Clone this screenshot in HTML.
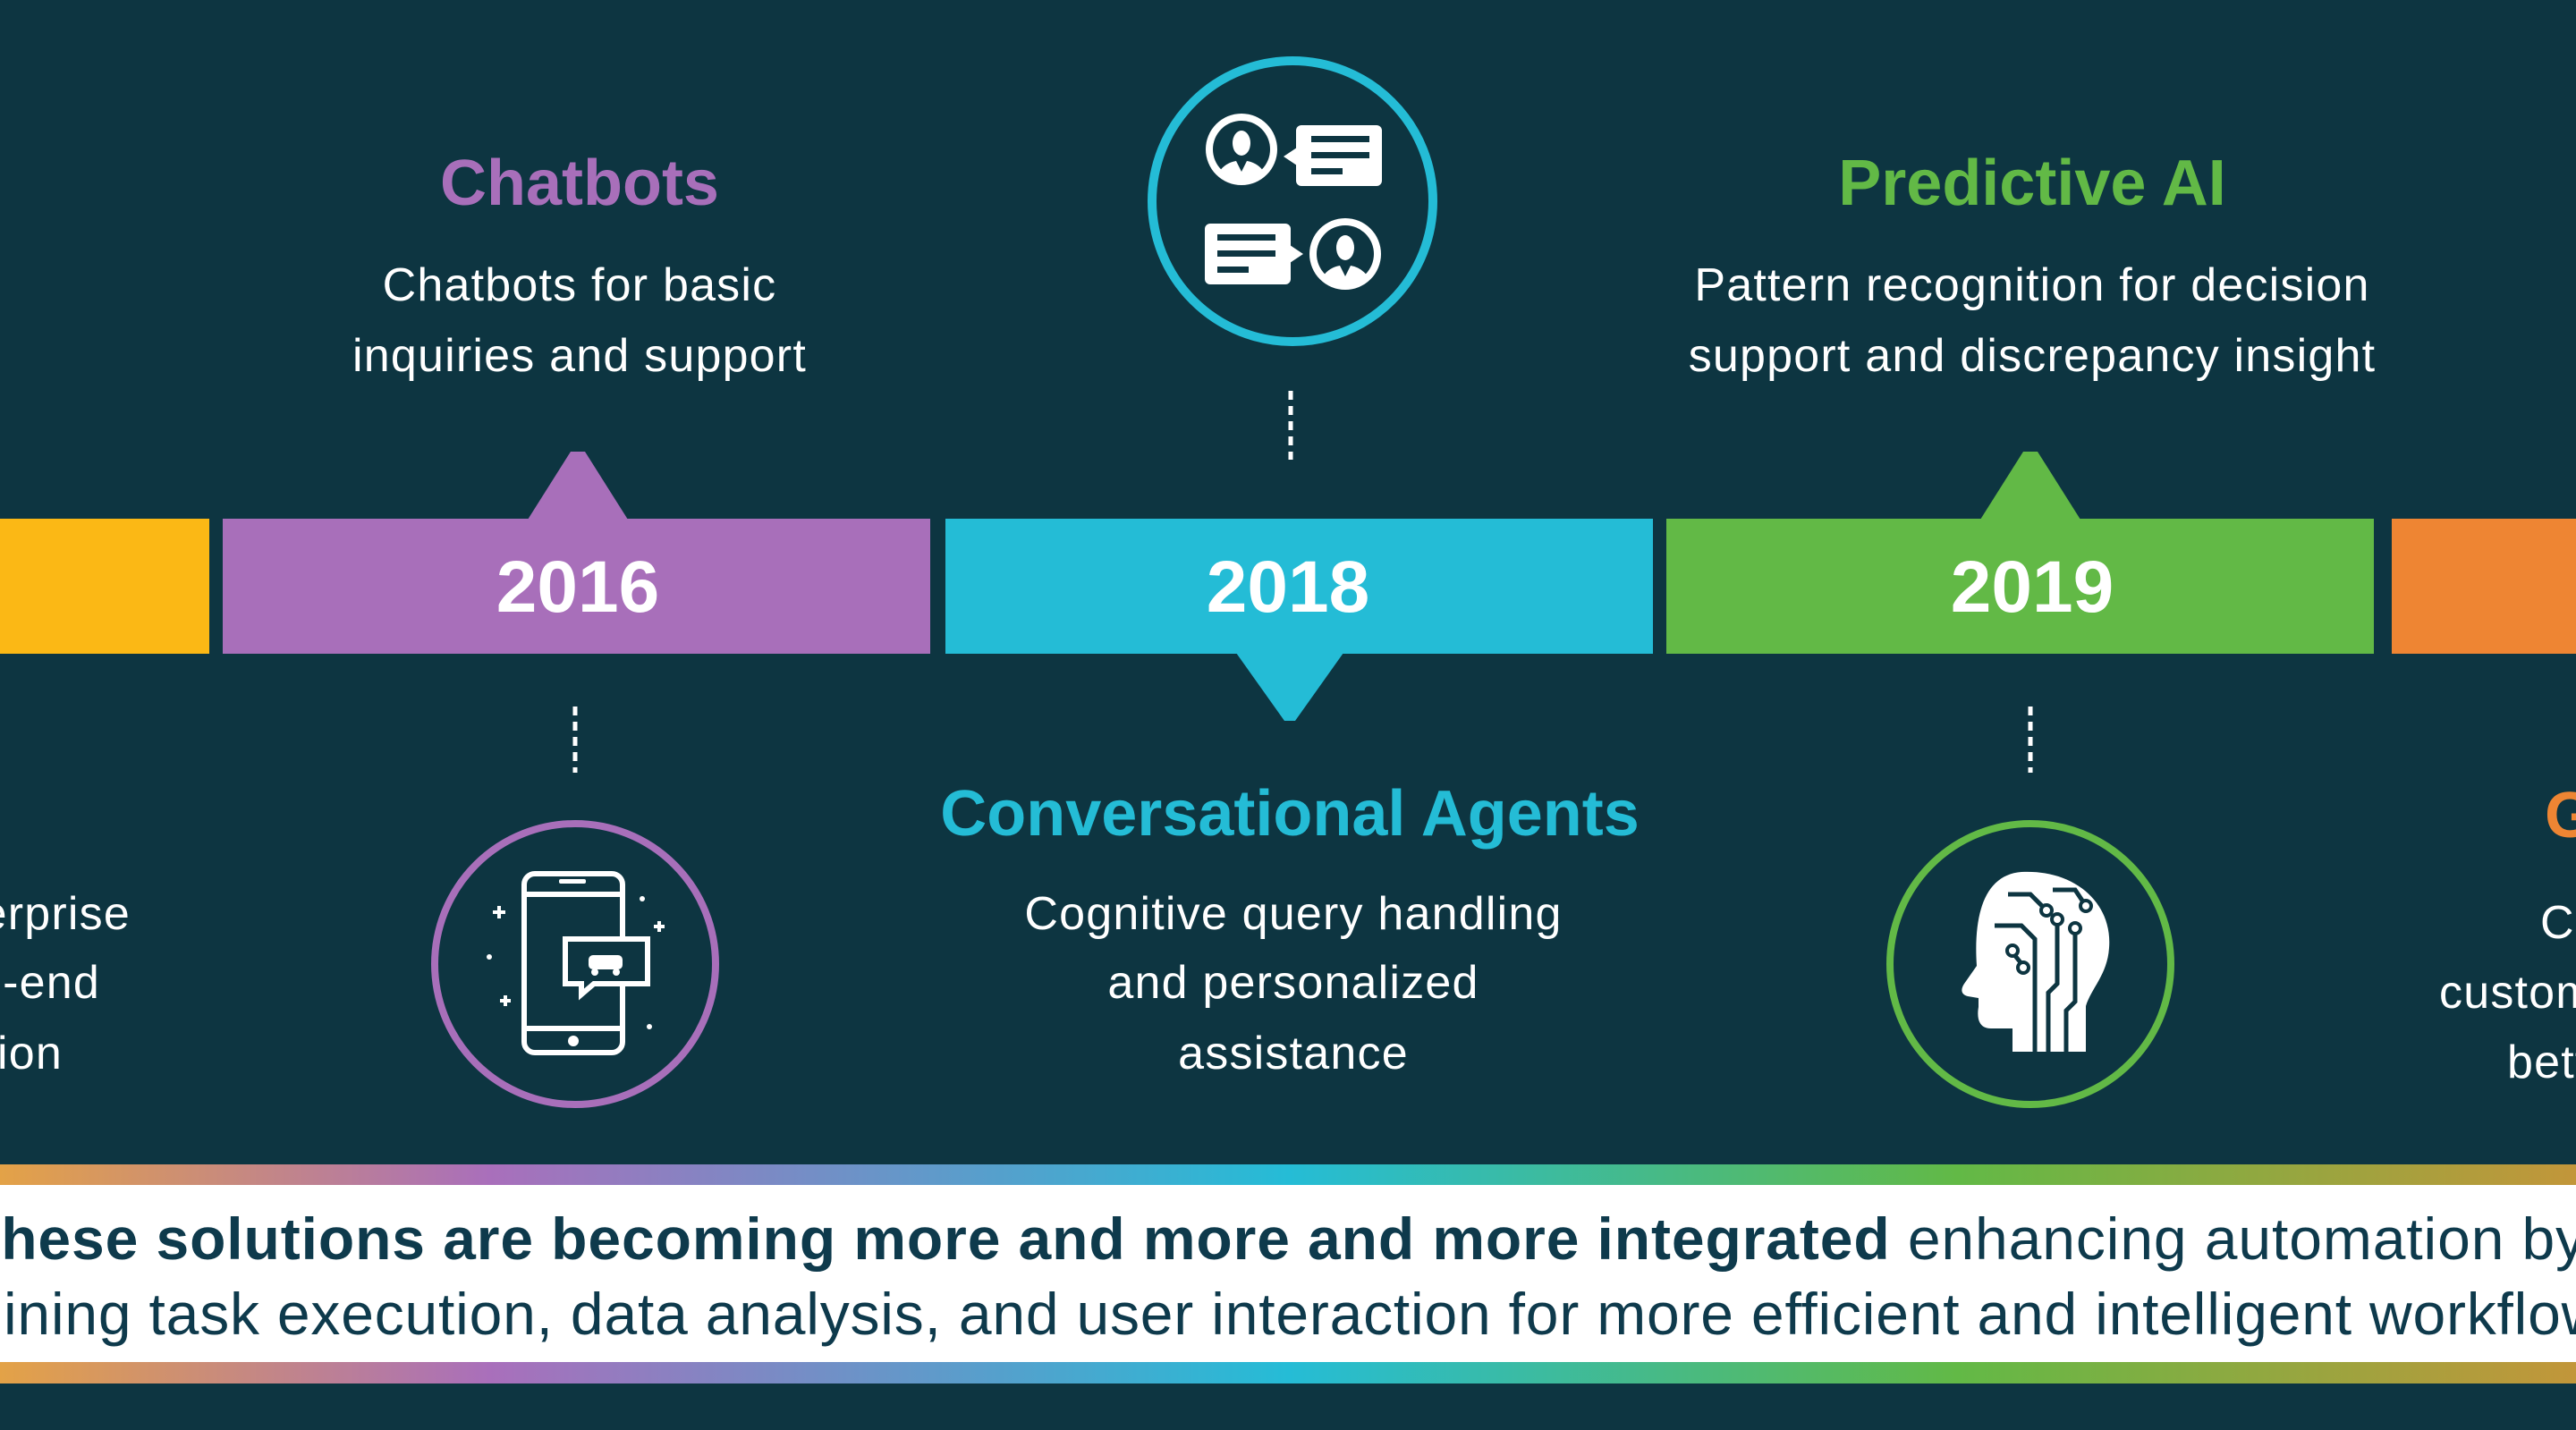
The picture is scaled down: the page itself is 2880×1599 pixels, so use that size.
<!DOCTYPE html>
<html><head><meta charset="utf-8"><style>
html,body{margin:0;padding:0;background:#0d3541;overflow:hidden;width:2880px;height:1599px}
svg{display:block}
text{font-family:"Liberation Sans",Arial,sans-serif}
</style></head><body>
<svg width="2880" height="1599" viewBox="0 0 2880 1599" xmlns="http://www.w3.org/2000/svg">
<defs>
<linearGradient id="g" x1="0" x2="1" y1="0" y2="0">
<stop offset="0" stop-color="#e3a247"/><stop offset="0.19" stop-color="#a96fbb"/><stop offset="0.5" stop-color="#25bcd6"/><stop offset="0.76" stop-color="#62b946"/><stop offset="1" stop-color="#c2963a"/>
</linearGradient>
</defs>
<rect width="2880" height="1599" fill="#0d3541"/>
<rect x="0" y="580" width="234" height="151" fill="#fbb815"/>
<rect x="249" y="580" width="791" height="151" fill="#a86fba"/>
<rect x="1057" y="580" width="791" height="151" fill="#24bcd6"/>
<rect x="1863" y="580" width="791" height="151" fill="#62b946"/>
<rect x="2674" y="580" width="206" height="151" fill="#ee8533"/>
<polygon points="590,581 638,505 654,505 702,581" fill="#a86fba"/>
<polygon points="2214,581 2262,505 2278,505 2326,581" fill="#62b946"/>
<polygon points="1382,730 1502,730 1448,806 1436,806" fill="#24bcd6"/>
<g fill="#fff" font-weight="bold" font-size="82" text-anchor="middle">
<text x="646" y="684">2016</text><text x="1440" y="684">2018</text><text x="2272" y="684">2019</text>
</g>
<g font-weight="bold" font-size="72" text-anchor="middle">
<text x="648" y="229" fill="#a86fba">Chatbots</text>
<text x="2272" y="229" fill="#62b946">Predictive AI</text>
<text x="1442" y="934" fill="#24bcd6">Conversational Agents</text>
<text x="2845" y="936" fill="#ee8533" text-anchor="start">Generative AI</text>
<text x="4" y="229" fill="#fbb815" text-anchor="end">Automation</text>
</g>
<g fill="#fff" font-size="52" letter-spacing="1.2" text-anchor="middle">
<text x="648" y="336">Chatbots for basic</text>
<text x="648" y="415">inquiries and support</text>
<text x="2272" y="336">Pattern recognition for decision</text>
<text x="2272" y="415">support and discrepancy insight</text>
<text x="1446" y="1039">Cognitive query handling</text>
<text x="1446" y="1116">and personalized</text>
<text x="1446" y="1195">assistance</text>
<g text-anchor="end">
<text x="146" y="1039">Enterprise</text>
<text x="112" y="1116">end-to-end</text>
<text x="70" y="1195">automation</text>
</g>
<g text-anchor="start">
<text x="2840" y="1049">Customized</text>
<text x="2727" y="1127">customer service</text>
<text x="2803" y="1205">better</text>
</g>
</g>
<g stroke="#fff" stroke-width="5" stroke-dasharray="10,7">
<line x1="1443" y1="437" x2="1443" y2="514"/>
<line x1="643" y1="790" x2="643" y2="864"/>
<line x1="2270" y1="790" x2="2270" y2="864"/>
</g>
<circle cx="1445" cy="225" r="157" fill="none" stroke="#24bcd6" stroke-width="10"/>
<g fill="#fff">
<circle cx="1388" cy="167" r="40"/>
<circle cx="1388" cy="167" r="32" fill="#0d3541"/>
<path d="M1363 192 Q1370 182 1382 180 L1388 192 L1394 180 Q1406 182 1413 192 A32 32 0 0 1 1363 192Z"/>
<ellipse cx="1388" cy="160" rx="10" ry="14"/>
<rect x="1449" y="140" width="96" height="68" rx="6"/>
<polygon points="1450,165 1435,175 1450,185"/>
<circle cx="1504" cy="284" r="40"/>
<circle cx="1504" cy="284" r="32" fill="#0d3541"/>
<path d="M1479 309 Q1486 299 1498 297 L1504 309 L1510 297 Q1522 299 1529 309 A32 32 0 0 1 1479 309Z"/>
<ellipse cx="1504" cy="277" rx="10" ry="14"/>
<rect x="1347" y="250" width="96" height="68" rx="6"/>
<polygon points="1442,274 1457,284 1442,294"/>
</g>
<g fill="#0d3541">
<rect x="1466" y="152" width="65" height="7"/><rect x="1466" y="170" width="65" height="7"/><rect x="1466" y="188" width="35" height="7"/>
<rect x="1361" y="262" width="65" height="7"/><rect x="1361" y="280" width="65" height="7"/><rect x="1361" y="298" width="35" height="7"/>
</g>
<circle cx="643" cy="1078" r="157" fill="none" stroke="#a86fba" stroke-width="8"/>
<g fill="none" stroke="#fff" stroke-width="6">
<rect x="586" y="977" width="110" height="200" rx="12"/>
<line x1="586" y1="1000" x2="696" y2="1000"/><line x1="586" y1="1150" x2="696" y2="1150"/>
<path d="M632 1050 h92 v50 h-60 l-14 12 v-12 h-18z" fill="#0d3541"/>
</g>
<g fill="#fff">
<rect x="625" y="983" width="30" height="5" rx="2"/><circle cx="641" cy="1164" r="6"/>
<rect x="658" y="1068" width="38" height="16" rx="5"/><circle cx="665" cy="1087" r="4"/><circle cx="689" cy="1087" r="4"/>
<rect x="556" y="1013" width="4" height="14"/><rect x="551" y="1018" width="14" height="4"/>
<rect x="563" y="1113" width="4" height="12"/><rect x="559" y="1117" width="12" height="4"/>
<circle cx="547" cy="1070" r="3"/><circle cx="718" cy="1005" r="3"/><circle cx="726" cy="1148" r="3"/>
<rect x="735" y="1030" width="4" height="12"/><rect x="731" y="1034" width="12" height="4"/>
</g>
<circle cx="2270" cy="1078" r="157" fill="none" stroke="#62b946" stroke-width="8"/>
<path fill="#fff" d="M2260 975 C2320 972 2362 1010 2358 1060 C2356 1090 2338 1105 2332 1125 L2332 1176 L2250 1176 L2250 1150 L2226 1150 C2212 1150 2210 1138 2212 1126 L2212 1116 L2200 1114 C2192 1112 2192 1106 2196 1100 L2210 1080 C2206 1020 2220 978 2260 975Z"/>
<g fill="none" stroke="#0d3541" stroke-width="5">
<path d="M2245 1000 L2270 1000 L2285 1015"/><path d="M2230 1035 L2260 1035 L2275 1050 L2275 1176"/>
<path d="M2295 995 L2320 995 L2330 1010"/><path d="M2300 1030 L2300 1100 L2290 1110 L2290 1176"/>
<path d="M2320 1040 L2320 1120 L2310 1130 L2310 1176"/><path d="M2250 1065 L2262 1080"/>
</g>
<g fill="#fff" stroke="#0d3541" stroke-width="4">
<circle cx="2288" cy="1018" r="6"/><circle cx="2332" cy="1013" r="6"/><circle cx="2300" cy="1028" r="6"/><circle cx="2320" cy="1038" r="6"/><circle cx="2262" cy="1082" r="6"/><circle cx="2250" cy="1063" r="6"/>
</g>
<rect x="0" y="1302" width="2880" height="23" fill="url(#g)"/>
<rect x="0" y="1325" width="2880" height="198" fill="#fff"/>
<rect x="0" y="1523" width="2880" height="24" fill="url(#g)"/>
<text x="-40" y="1408" font-size="66" letter-spacing="0.9" fill="#0e3a4c" xml:space="preserve"><tspan font-weight="bold">These solutions are becoming more and more and more integrated</tspan> enhancing automation by</text>
<text x="-218" y="1492" font-size="66" letter-spacing="0.8" fill="#0e3a4c">streamlining task execution, data analysis, and user interaction for more efficient and intelligent workflows</text>
</svg>
</body></html>
